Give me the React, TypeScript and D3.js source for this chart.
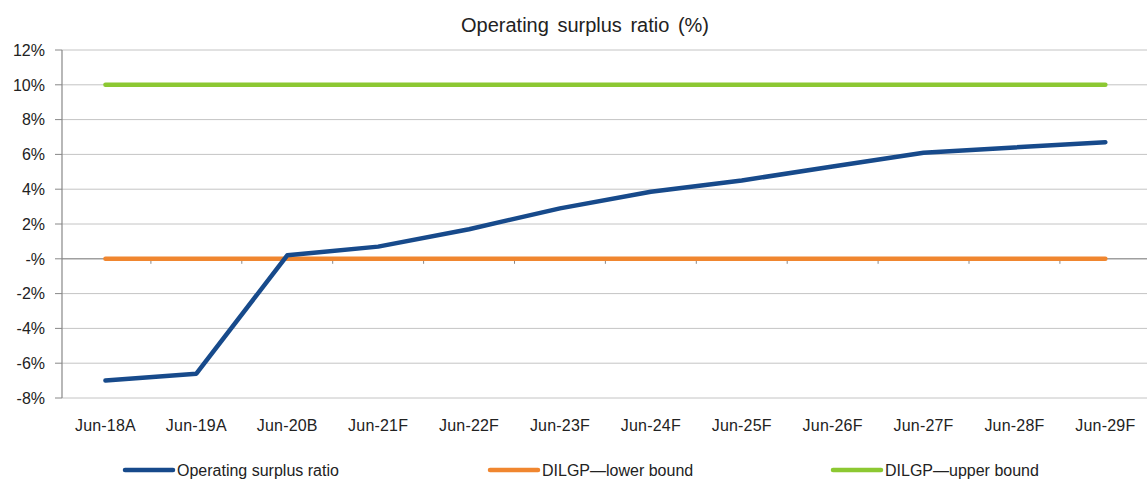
import React from "react";
import * as d3 from "d3";

const categories = ["Jun-18A","Jun-19A","Jun-20B","Jun-21F","Jun-22F","Jun-23F","Jun-24F","Jun-25F","Jun-26F","Jun-27F","Jun-28F","Jun-29F"];
const operatingSurplus = [-7.0, -6.6, 0.2, 0.7, 1.7, 2.9, 3.85, 4.5, 5.3, 6.1, 6.4, 6.7];
const lowerBound = [0,0,0,0,0,0,0,0,0,0,0,0];
const upperBound = [10,10,10,10,10,10,10,10,10,10,10,10];
const yTicks = [-8,-6,-4,-2,0,2,4,6,8,10,12];
const seriesNames = ["Operating surplus ratio", "DILGP\u2014lower bound", "DILGP\u2014upper bound"];
const seriesColors = ["#174a8b", "#f0862f", "#8cc832"];

const W = 1147, H = 486;
const left = 60, plotTop = 50, plotBottom = 398;

export default function App() {
  const x = d3.scaleBand<string>().domain(categories).range([left, left + 12 * 90.9]).padding(0);
  const y = d3.scaleLinear().domain([-8, 12]).range([plotBottom, plotTop]);
  const cx = (c: string) => (x(c) as number) + x.bandwidth() / 2;
  const line = d3.line<number>().x((_, i) => cx(categories[i])).y((d) => y(d));
  const series = [operatingSurplus, lowerBound, upperBound];
  const font = "'Liberation Sans', Arial, sans-serif";
  const legendX = [125, 490, 833];
  const fmt = (v: number) => (v === 0 ? "-%" : `${v}%`);
  return (
    <svg width={W} height={H} style={{ position: "absolute", left: 0, top: 0, background: "#fff" }} fontFamily={font}>
      <rect x={0} y={0} width={W} height={H} fill="#fff" />
      <text x={585} y={32} textAnchor="middle" fontSize={20} fill="#222" wordSpacing={3}>Operating surplus ratio (%)</text>
      {yTicks.map((t) => (
        <g key={t}>
          <line x1={62} x2={W} y1={y(t)} y2={y(t)} stroke="#c4c4c4" strokeWidth={1} />
          <line x1={55} x2={62} y1={y(t)} y2={y(t)} stroke="#888" strokeWidth={1} />
          <text x={45} y={y(t)} dy="0.36em" textAnchor="end" fontSize={16} fill="#222">{fmt(t)}</text>
        </g>
      ))}
      <line x1={62} x2={62} y1={plotTop} y2={plotBottom} stroke="#888" strokeWidth={1.2} />
      <line x1={62} x2={W} y1={y(0)} y2={y(0)} stroke="#888" strokeWidth={1} />
      {categories.map((c, i) => (
        <g key={c}>
          {i > 0 && <line x1={x(c) as number} x2={x(c) as number} y1={y(0)} y2={y(0) + 5} stroke="#888" strokeWidth={1} />}
          <text x={cx(c)} y={431} textAnchor="middle" fontSize={16} fill="#222" letterSpacing={0.2}>{c}</text>
        </g>
      ))}
      {[2, 1, 0].map((k) => (
        <path key={k} d={line(series[k]) as string} fill="none" stroke={seriesColors[k]} strokeWidth={k === 0 ? 4.5 : 4.5} strokeLinejoin="round" strokeLinecap="round" />
      ))}
      {seriesNames.map((n, i) => (
        <g key={n}>
          <line x1={legendX[i]} x2={legendX[i] + 48} y1={470} y2={470} stroke={seriesColors[i]} strokeWidth={4.5} strokeLinecap="round" />
          <text x={legendX[i] + 52} y={470} dy="0.36em" fontSize={16} fill="#222">{n}</text>
        </g>
      ))}
    </svg>
  );
}
